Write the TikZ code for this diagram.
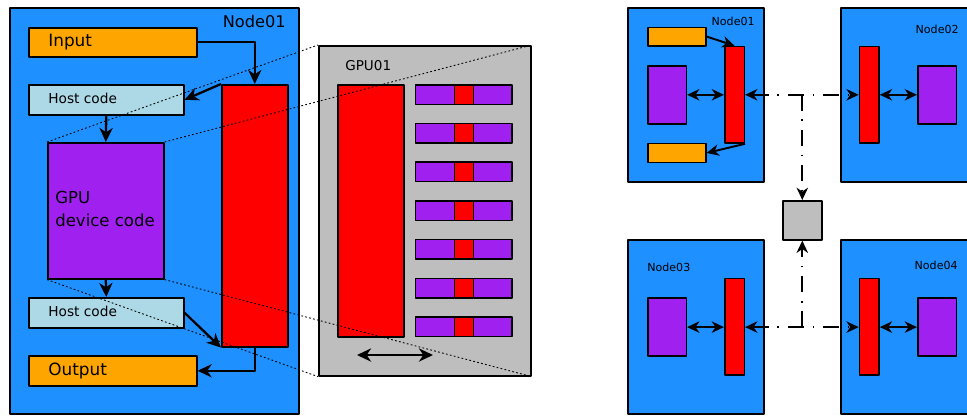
\documentclass[tikz,border=0pt]{standalone}
\usepackage{fontspec}
\setmainfont{DejaVu Sans}
\usetikzlibrary{arrows.meta}
\definecolor{nodeblue}{HTML}{1E90FF}
\definecolor{ioorange}{HTML}{FFA500}
\definecolor{hostblue}{HTML}{ADD8E6}
\definecolor{devpurple}{HTML}{A020F0}
\definecolor{gpugray}{HTML}{BEBEBE}
\tikzset{
  blk/.style={draw, line width=0.9pt, inner sep=0pt, anchor=north west},
  txt/.style={inner sep=0pt, anchor=base west},
  arr/.style={->, line width=1.3pt, >={Stealth[length=8pt,width=7.5pt,inset=2.5pt]}},
  link/.style={line width=1.1pt, >={Stealth[length=7pt,width=6.5pt,inset=2.2pt]}},
  dashdot/.style={link, dash pattern=on 9pt off 5pt on 1pt off 5pt},
  zoomline/.style={line width=0.5pt, dash pattern=on 1pt off 1.3pt}
}
\begin{document}
\begin{tikzpicture}[x=0.02cm, y=-0.02cm, line join=round]
\def\u{0.02cm}
\useasboundingbox (0,0) rectangle (967,417);
% one node, host and device code
\node[blk, fill=nodeblue, minimum width=289*\u, minimum height=406*\u] (n1) at (9,7) {};
\node[blk, fill=ioorange, minimum width=168*\u, minimum height=29*\u] (input) at (28,27) {};
\node[blk, fill=hostblue, minimum width=155*\u, minimum height=30*\u] (host1) at (28,84) {};
\node[blk, fill=devpurple, minimum width=116*\u, minimum height=136*\u] (gpu) at (47,142) {};
\node[blk, fill=hostblue, minimum width=155*\u, minimum height=30*\u] (host2) at (28,297) {};
\node[blk, fill=ioorange, minimum width=168*\u, minimum height=30*\u] (output) at (28,355) {};
\node[blk, fill=red, minimum width=66*\u, minimum height=262*\u] (mem) at (221,84) {};
\node[txt, anchor=base east, font=\fontsize{9.2}{11}\selectfont] (n1lab) at (286,27) {Node01};
\node[txt, font=\fontsize{9.6}{11}\selectfont] (intxt) at (48,46) {Input};
\node[txt, font=\fontsize{7.8}{10}\selectfont] (h1txt) at (48,103) {Host code};
\node[txt, font=\fontsize{9.4}{13}\selectfont] (gputxt) at (55,203) {GPU};
\node[txt, font=\fontsize{9.4}{13}\selectfont] (devtxt) at (55,226) {device code};
\node[txt, font=\fontsize{7.8}{10}\selectfont] (h2txt) at (48,316) {Host code};
\node[txt, font=\fontsize{9.6}{11}\selectfont] (outtxt) at (48,375) {Output};
\draw[arr] (input.east) -| (mem.north);
\draw[arr] (mem.north west) -- (host1.east);
\draw[arr] (host1.south) -- (gpu.north);
\draw[arr] (gpu.south) -- (host2.north);
\draw[arr] (host2.east) -- (mem.south west);
\draw[arr] (mem.south) |- (output.east);
% zoom on the GPU
\node[blk, fill=gpugray, minimum width=212*\u, minimum height=330*\u] (g1) at (318,45) {};
\node[txt, font=\fontsize{7.7}{10}\selectfont] (g1lab) at (345,70) {GPU01};
\node[blk, fill=red, minimum width=66*\u, minimum height=252*\u] (gmem) at (337,84) {};
\foreach \i in {0,...,6} {
  \pgfmathsetmacro\yy{84+38.7*\i}
  \node[blk, fill=devpurple, minimum width=39*\u, minimum height=19.5*\u] (pl\i) at (414.5,\yy) {};
  \node[blk, fill=red, minimum width=19*\u, minimum height=19.5*\u] (pm\i) at (453.5,\yy) {};
  \node[blk, fill=devpurple, minimum width=38.5*\u, minimum height=19.5*\u] (pr\i) at (472.5,\yy) {};
}
\coordinate (sl) at (357,355);
\coordinate (sr) at (433,355);
\draw[arr, <->] (sl) -- (sr);
\draw[zoomline] (gpu.north west) -- (g1.north west);
\draw[zoomline] (gpu.north east) -- (g1.north east);
\draw[zoomline] (gpu.south west) -- (g1.south west);
\draw[zoomline] (gpu.south east) -- (g1.south east);
% four nodes
\node[blk, fill=nodeblue, minimum width=136*\u, minimum height=174*\u] (c1) at (627,7) {};
\node[blk, fill=nodeblue, minimum width=136*\u, minimum height=174*\u] (c2) at (840,7) {};
\node[blk, fill=nodeblue, minimum width=136*\u, minimum height=174*\u] (c3) at (627,239) {};
\node[blk, fill=nodeblue, minimum width=136*\u, minimum height=174*\u] (c4) at (840,239) {};
\node[blk, fill=gpugray, minimum width=39*\u, minimum height=39*\u] (sw) at (782,200) {};
\node[txt, anchor=base east, font=\fontsize{6.3}{8}\selectfont] (c1lab) at (755,25) {Node01};
\node[txt, anchor=base east, font=\fontsize{6.3}{8}\selectfont] (c2lab) at (959,33) {Node02};
\node[txt, font=\fontsize{6.3}{8}\selectfont] (c3lab) at (647,271) {Node03};
\node[txt, anchor=base east, font=\fontsize{6.3}{8}\selectfont] (c4lab) at (958,269) {Node04};
\node[blk, fill=ioorange, minimum width=58*\u, minimum height=18.5*\u] (o1) at (647,26.5) {};
\node[blk, fill=ioorange, minimum width=58*\u, minimum height=19*\u] (o2) at (647,142.7) {};
\node[blk, fill=devpurple, minimum width=38.5*\u, minimum height=58*\u] (d1) at (647,65) {};
\node[blk, fill=red, minimum width=19.5*\u, minimum height=96.5*\u] (r1) at (724,45.7) {};
\node[blk, fill=red, minimum width=19.5*\u, minimum height=96.5*\u] (r2) at (858.7,45.7) {};
\node[blk, fill=devpurple, minimum width=38.5*\u, minimum height=58*\u] (d2) at (917,65) {};
\node[blk, fill=devpurple, minimum width=38.5*\u, minimum height=58*\u] (d3) at (647,297.3) {};
\node[blk, fill=red, minimum width=19.5*\u, minimum height=96.5*\u] (r3) at (724,277.7) {};
\node[blk, fill=red, minimum width=19.5*\u, minimum height=96.5*\u] (r4) at (858.7,277.7) {};
\node[blk, fill=devpurple, minimum width=38.5*\u, minimum height=58*\u] (d4) at (917,297.3) {};
\draw[link, ->] (o1.east) -- (r1.north);
\draw[link, ->] (r1.south east) -- (o2.east);
\draw[link, <->] (d1.east) -- (d1.east -| r1.west);
\draw[link, <->] (r2.east |- d2.west) -- (d2.west);
\draw[link, <->] (d3.east) -- (d3.east -| r3.west);
\draw[link, <->] (r4.east |- d4.west) -- (d4.west);
\coordinate (j1) at (sw.north |- d1.east);
\coordinate (j2) at (sw.south |- d3.east);
\draw[dashdot, <->] (r1.east |- j1) -- (r2.west |- j1);
\draw[dashdot, ->] (j1) -- (sw.north);
\draw[dashdot, <->] (r3.east |- j2) -- (r4.west |- j2);
\draw[dashdot, ->] (j2) -- (sw.south);
\end{tikzpicture}
\end{document}
